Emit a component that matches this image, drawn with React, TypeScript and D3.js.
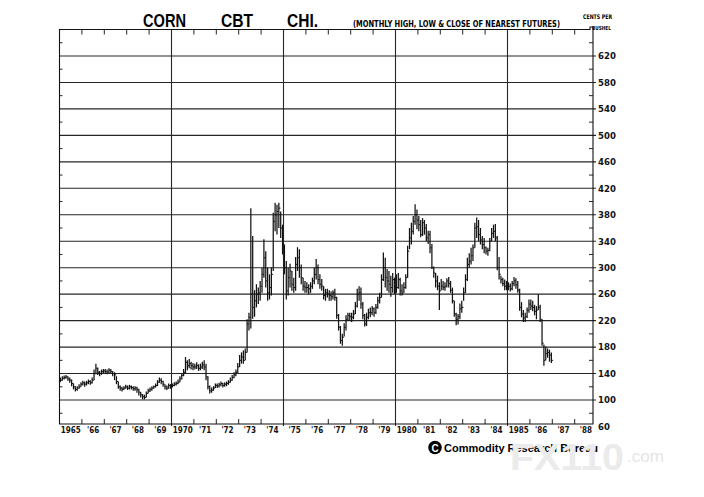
import React from "react";
import * as d3 from "d3";

const W = 704;
const H = 497;
const startYear = 1965;

// Monthly high / low / close (cents per bushel), Jan 1965 – Dec 1986
const highs: number[] = [
  134, 136, 137, 138, 136, 134, 131, 125, 121, 121, 124, 127, // 1965
  129, 128, 129, 131, 130, 134, 146, 155, 149, 144, 146, 147, // 1966
  147, 146, 148, 147, 144, 142, 136, 128, 122, 120, 121, 123, // 1967
  122, 123, 122, 121, 121, 120, 117, 112, 109, 108, 113, 117, // 1968
  119, 121, 122, 125, 130, 134, 133, 129, 124, 122, 125, 124, // 1969
  125, 127, 128, 131, 136, 141, 147, 165, 160, 162, 158, 156, // 1970
  155, 157, 154, 155, 158, 160, 155, 136, 122, 119, 121, 125, // 1971
  125, 126, 128, 126, 127, 128, 130, 134, 138, 142, 146, 156, // 1972
  168, 172, 175, 178, 222, 232, 390, 348, 266, 275, 270, 280, // 1973
  300, 343, 325, 300, 290, 300, 383, 398, 395, 398, 385, 365, // 1974
  335, 310, 300, 306, 295, 285, 316, 331, 328, 305, 285, 280, // 1975
  278, 275, 278, 285, 300, 313, 305, 290, 283, 272, 268, 268, // 1976
  266, 264, 266, 268, 256, 230, 212, 200, 216, 228, 232, 232, // 1977
  232, 236, 248, 268, 272, 270, 248, 230, 232, 238, 240, 242, // 1978
  240, 245, 256, 262, 290, 323, 315, 298, 295, 288, 292, 285, // 1979
  290, 292, 285, 275, 278, 290, 333, 360, 368, 378, 396, 388, // 1980
  378, 372, 375, 372, 366, 356, 356, 336, 302, 292, 288, 278, // 1981
  283, 280, 278, 284, 286, 280, 270, 250, 232, 230, 246, 250, // 1982
  270, 290, 315, 322, 330, 335, 368, 376, 372, 360, 348, 345, // 1983
  332, 330, 345, 360, 365, 366, 348, 316, 288, 285, 282, 280, // 1984
  278, 276, 280, 286, 284, 280, 268, 248, 236, 232, 240, 252, // 1985
  252, 250, 244, 242, 260, 244, 222, 184, 181, 178, 176, 172, // 1986
];

const lows: number[] = [
  127, 129, 131, 132, 129, 126, 121, 116, 113, 114, 117, 120, // 1965
  122, 120, 122, 124, 123, 125, 130, 139, 138, 136, 138, 140, // 1966
  140, 139, 141, 140, 136, 130, 124, 117, 114, 113, 115, 117, // 1967
  115, 116, 116, 114, 114, 111, 107, 104, 101, 101, 104, 110, // 1968
  112, 114, 117, 119, 121, 126, 124, 120, 116, 115, 117, 117, // 1969
  119, 121, 122, 124, 127, 131, 136, 140, 145, 148, 146, 145, // 1970
  146, 147, 144, 145, 147, 145, 130, 116, 110, 111, 114, 118, // 1971
  118, 119, 121, 119, 120, 121, 123, 126, 129, 133, 136, 141, // 1972
  150, 155, 155, 160, 172, 205, 208, 223, 226, 240, 245, 250, // 1973
  262, 285, 270, 250, 252, 258, 295, 355, 350, 360, 345, 320, // 1974
  290, 252, 258, 270, 265, 262, 265, 295, 285, 275, 265, 262, // 1975
  262, 260, 262, 268, 275, 282, 275, 268, 265, 252, 250, 255, // 1976
  250, 250, 252, 250, 223, 205, 185, 182, 196, 205, 220, 220, // 1977
  218, 222, 230, 240, 250, 238, 222, 211, 212, 222, 225, 228, // 1978
  226, 230, 238, 246, 255, 280, 270, 265, 262, 256, 262, 260, // 1979
  262, 268, 258, 258, 262, 268, 285, 328, 335, 350, 365, 358, // 1980
  355, 346, 348, 350, 340, 336, 322, 298, 285, 270, 266, 236, // 1981
  266, 266, 265, 270, 270, 262, 246, 226, 213, 214, 222, 232, // 1982
  250, 262, 280, 300, 305, 310, 330, 345, 340, 335, 328, 322, // 1983
  320, 318, 325, 340, 345, 340, 296, 282, 276, 272, 266, 266, // 1984
  266, 264, 266, 272, 268, 262, 235, 225, 218, 218, 224, 232, // 1985
  236, 234, 228, 222, 236, 218, 182, 152, 160, 164, 158, 156, // 1986
];

const closes: number[] = [
  130, 133, 134, 135, 132, 130, 125, 120, 116, 118, 120, 124, // 1965
  126, 124, 126, 128, 126, 130, 140, 148, 142, 140, 143, 144, // 1966
  143, 142, 145, 143, 140, 138, 128, 120, 118, 116, 118, 120, // 1967
  118, 120, 119, 117, 118, 116, 112, 108, 105, 104, 110, 114, // 1968
  116, 118, 120, 122, 127, 130, 128, 124, 120, 118, 122, 120, // 1969
  122, 124, 125, 127, 132, 137, 142, 157, 152, 155, 152, 150, // 1970
  150, 152, 148, 150, 153, 150, 135, 120, 114, 115, 118, 122, // 1971
  121, 123, 125, 122, 124, 125, 127, 130, 134, 138, 142, 150, // 1972
  160, 165, 160, 172, 215, 225, 260, 240, 250, 260, 262, 272, // 1973
  290, 315, 280, 262, 270, 290, 370, 380, 385, 390, 360, 335, // 1974
  300, 265, 285, 295, 275, 270, 305, 315, 300, 285, 272, 270, // 1975
  270, 268, 272, 280, 290, 300, 282, 275, 272, 258, 262, 260, // 1976
  258, 256, 262, 255, 228, 210, 190, 195, 210, 222, 228, 226, // 1977
  225, 230, 242, 260, 262, 245, 228, 215, 225, 232, 232, 238, // 1978
  232, 240, 250, 255, 282, 300, 285, 280, 275, 270, 282, 270, // 1979
  270, 282, 265, 262, 270, 285, 325, 345, 355, 370, 380, 372, // 1980
  365, 350, 368, 360, 345, 350, 330, 300, 292, 280, 272, 265, // 1981
  272, 270, 272, 280, 276, 266, 250, 230, 222, 226, 238, 240, // 1982
  262, 282, 305, 310, 318, 330, 360, 362, 350, 342, 335, 330, // 1983
  325, 326, 340, 352, 355, 345, 300, 290, 282, 276, 272, 270, // 1984
  272, 268, 276, 280, 274, 266, 240, 230, 224, 226, 236, 245, // 1985
  242, 240, 234, 236, 240, 222, 186, 160, 170, 172, 168, 160, // 1986
];

const priceLabels: number[] = [620, 580, 540, 500, 460, 420, 380, 340, 300, 260, 220, 180, 140, 100, 60];
const gridValues: number[] = [620, 580, 540, 500, 460, 420, 380, 340, 300, 260, 220, 180, 140, 100];
const minorValues: number[] = [640, 600, 560, 520, 480, 440, 400, 360, 320, 280, 240, 200, 160, 120, 80];
const yearLabels: string[] = [
  "1965", "'66", "'67", "'68", "'69", "1970", "'71", "'72", "'73", "'74", "'75", "'76",
  "'77", "'78", "'79", "1980", "'81", "'82", "'83", "'84", "1985", "'86", "'87", "'88",
];
const majorYears: number[] = [1970, 1975, 1980, 1985];
const titleWords: string[] = ["CORN", "CBT", "CHI."];
const subtitle = "(MONTHLY HIGH, LOW & CLOSE OF NEAREST FUTURES)";
const unitLines: string[] = ["CENTS PER", "BUSHEL"];
const footer = "Commodity Research Bureau";

const NARROW = "'Liberation Sans Narrow', 'DejaVu Sans Condensed', 'Arial Narrow', sans-serif";
const SANS = "'Liberation Sans', Arial, Helvetica, sans-serif";

export default function App() {
  const left = 59.5;
  const right = 593;
  const top = 29.5;
  const bottom = 424;

  const x = d3.scaleLinear().domain([1965, 1985]).range([59.5, 507.5]);
  const y = d3.scaleLinear().domain([60, 660]).range([426.5, 29.5]);

  const bars = closes.map((c, i) => ({
    t: startYear + (i + 0.5) / 12,
    h: highs[i],
    l: lows[i],
    c,
  }));

  const yearTicks = d3.range(1966, 1989).filter((yr) => yr % 5 !== 0);
  const ink = "#121212";
  const grid = "#262626";

  const titleX = [143, 221, 287];
  const titleLen = [43, 32, 31];

  return (
    <svg
      width={W}
      height={H}
      viewBox={`0 0 ${W} ${H}`}
      style={{ position: "absolute", left: 0, top: 0, background: "#fff" }}
    >
      <rect x={0} y={0} width={W} height={H} fill="#fff" />

      {/* horizontal grid */}
      {gridValues.map((v) => (
        <line key={"g" + v} x1={left} x2={right + 3} y1={y(v)} y2={y(v)} stroke={grid} strokeWidth={1.1} />
      ))}
      {/* minor ticks */}
      {minorValues.map((v) => (
        <g key={"m" + v}>
          <line x1={right - 4} x2={right} y1={y(v)} y2={y(v)} stroke={grid} strokeWidth={1} />
          <line x1={left} x2={left + 3} y1={y(v)} y2={y(v)} stroke={grid} strokeWidth={1} />
        </g>
      ))}
      {/* vertical 5-year lines */}
      {majorYears.map((yr) => (
        <line key={"v" + yr} x1={x(yr)} x2={x(yr)} y1={top} y2={bottom + 2} stroke={grid} strokeWidth={1.1} />
      ))}
      {/* year ticks top & bottom */}
      {yearTicks.map((yr) => (
        <g key={"t" + yr}>
          <line x1={x(yr)} x2={x(yr)} y1={bottom} y2={bottom - 5} stroke={grid} strokeWidth={1} />
          {x(yr) < right - 2 ? (
            <line x1={x(yr)} x2={x(yr)} y1={top} y2={top + 5} stroke={grid} strokeWidth={1} />
          ) : null}
        </g>
      ))}

      {/* frame */}
      <path
        d={`M${left},${bottom} V${top} H590 V27 H${right} V${bottom} Z`}
        fill="none"
        stroke={ink}
        strokeWidth={1.1}
      />

      {/* bars */}
      {bars.map((b, i) => (
        <g key={"b" + i}>
          <line x1={x(b.t)} x2={x(b.t)} y1={y(b.l)} y2={y(b.h)} stroke={ink} strokeWidth={1.25} />
          <line x1={x(b.t)} x2={x(b.t) + 1.7} y1={y(b.c)} y2={y(b.c)} stroke={ink} strokeWidth={1} />
        </g>
      ))}

      {/* right axis labels */}
      {priceLabels.map((v) => (
        <text
          key={"l" + v}
          x={598}
          y={y(v) + 3.3}
          fontFamily={NARROW}
          fontWeight="bold"
          fontSize={9.5}
          fill={ink}
        >
          {v}
        </text>
      ))}

      {/* year labels */}
      {yearLabels.map((lab, i) => (
        <text
          key={"y" + i}
          x={x(1965 + i + 0.5)}
          y={433}
          textAnchor="middle"
          fontFamily={NARROW}
          fontWeight="bold"
          fontSize={8}
          fill={ink}
        >
          {lab}
        </text>
      ))}

      {/* title */}
      {titleWords.map((w, i) => (
        <text
          key={"tt" + i}
          x={titleX[i]}
          y={27}
          fontFamily={SANS}
          fontWeight="bold"
          fontSize={18}
          textLength={titleLen[i]}
          lengthAdjust="spacingAndGlyphs"
          fill="#000"
        >
          {w}
        </text>
      ))}
      <text
        x={353}
        y={26.5}
        fontFamily={NARROW}
        fontWeight="bold"
        fontSize={8.8}
        textLength={207}
        lengthAdjust="spacingAndGlyphs"
        fill="#000"
      >
        {subtitle}
      </text>
      <text x={583} y={19} fontFamily={NARROW} fontWeight="bold" fontSize={6.3} textLength={29} lengthAdjust="spacingAndGlyphs" fill="#000">
        {unitLines[0]}
      </text>
      <text x={592} y={29.5} fontFamily={NARROW} fontWeight="bold" fontSize={5.6} textLength={19} lengthAdjust="spacingAndGlyphs" fill="#000">
        {unitLines[1]}
      </text>

      {/* footer logo */}
      <circle cx={435} cy={447.5} r={6.8} fill="#000" />
      <text x={435} y={451.5} textAnchor="middle" fontFamily={SANS} fontWeight="bold" fontSize={10} fill="#fff">
        C
      </text>
      <text x={444} y={452} fontFamily={SANS} fontWeight="bold" fontSize={11} fill="#000">
        {footer}
      </text>

      {/* watermark */}
      <text
        x={510}
        y={470}
        fontFamily={SANS}
        fontWeight="bold"
        fontSize={37}
        textLength={114}
        lengthAdjust="spacingAndGlyphs"
        fill="#ebebeb"
      >
        FX110
      </text>
      <text x={627} y={462} fontFamily={SANS} fontSize={17} fill="#e6e6e6">
        .com
      </text>
    </svg>
  );
}
